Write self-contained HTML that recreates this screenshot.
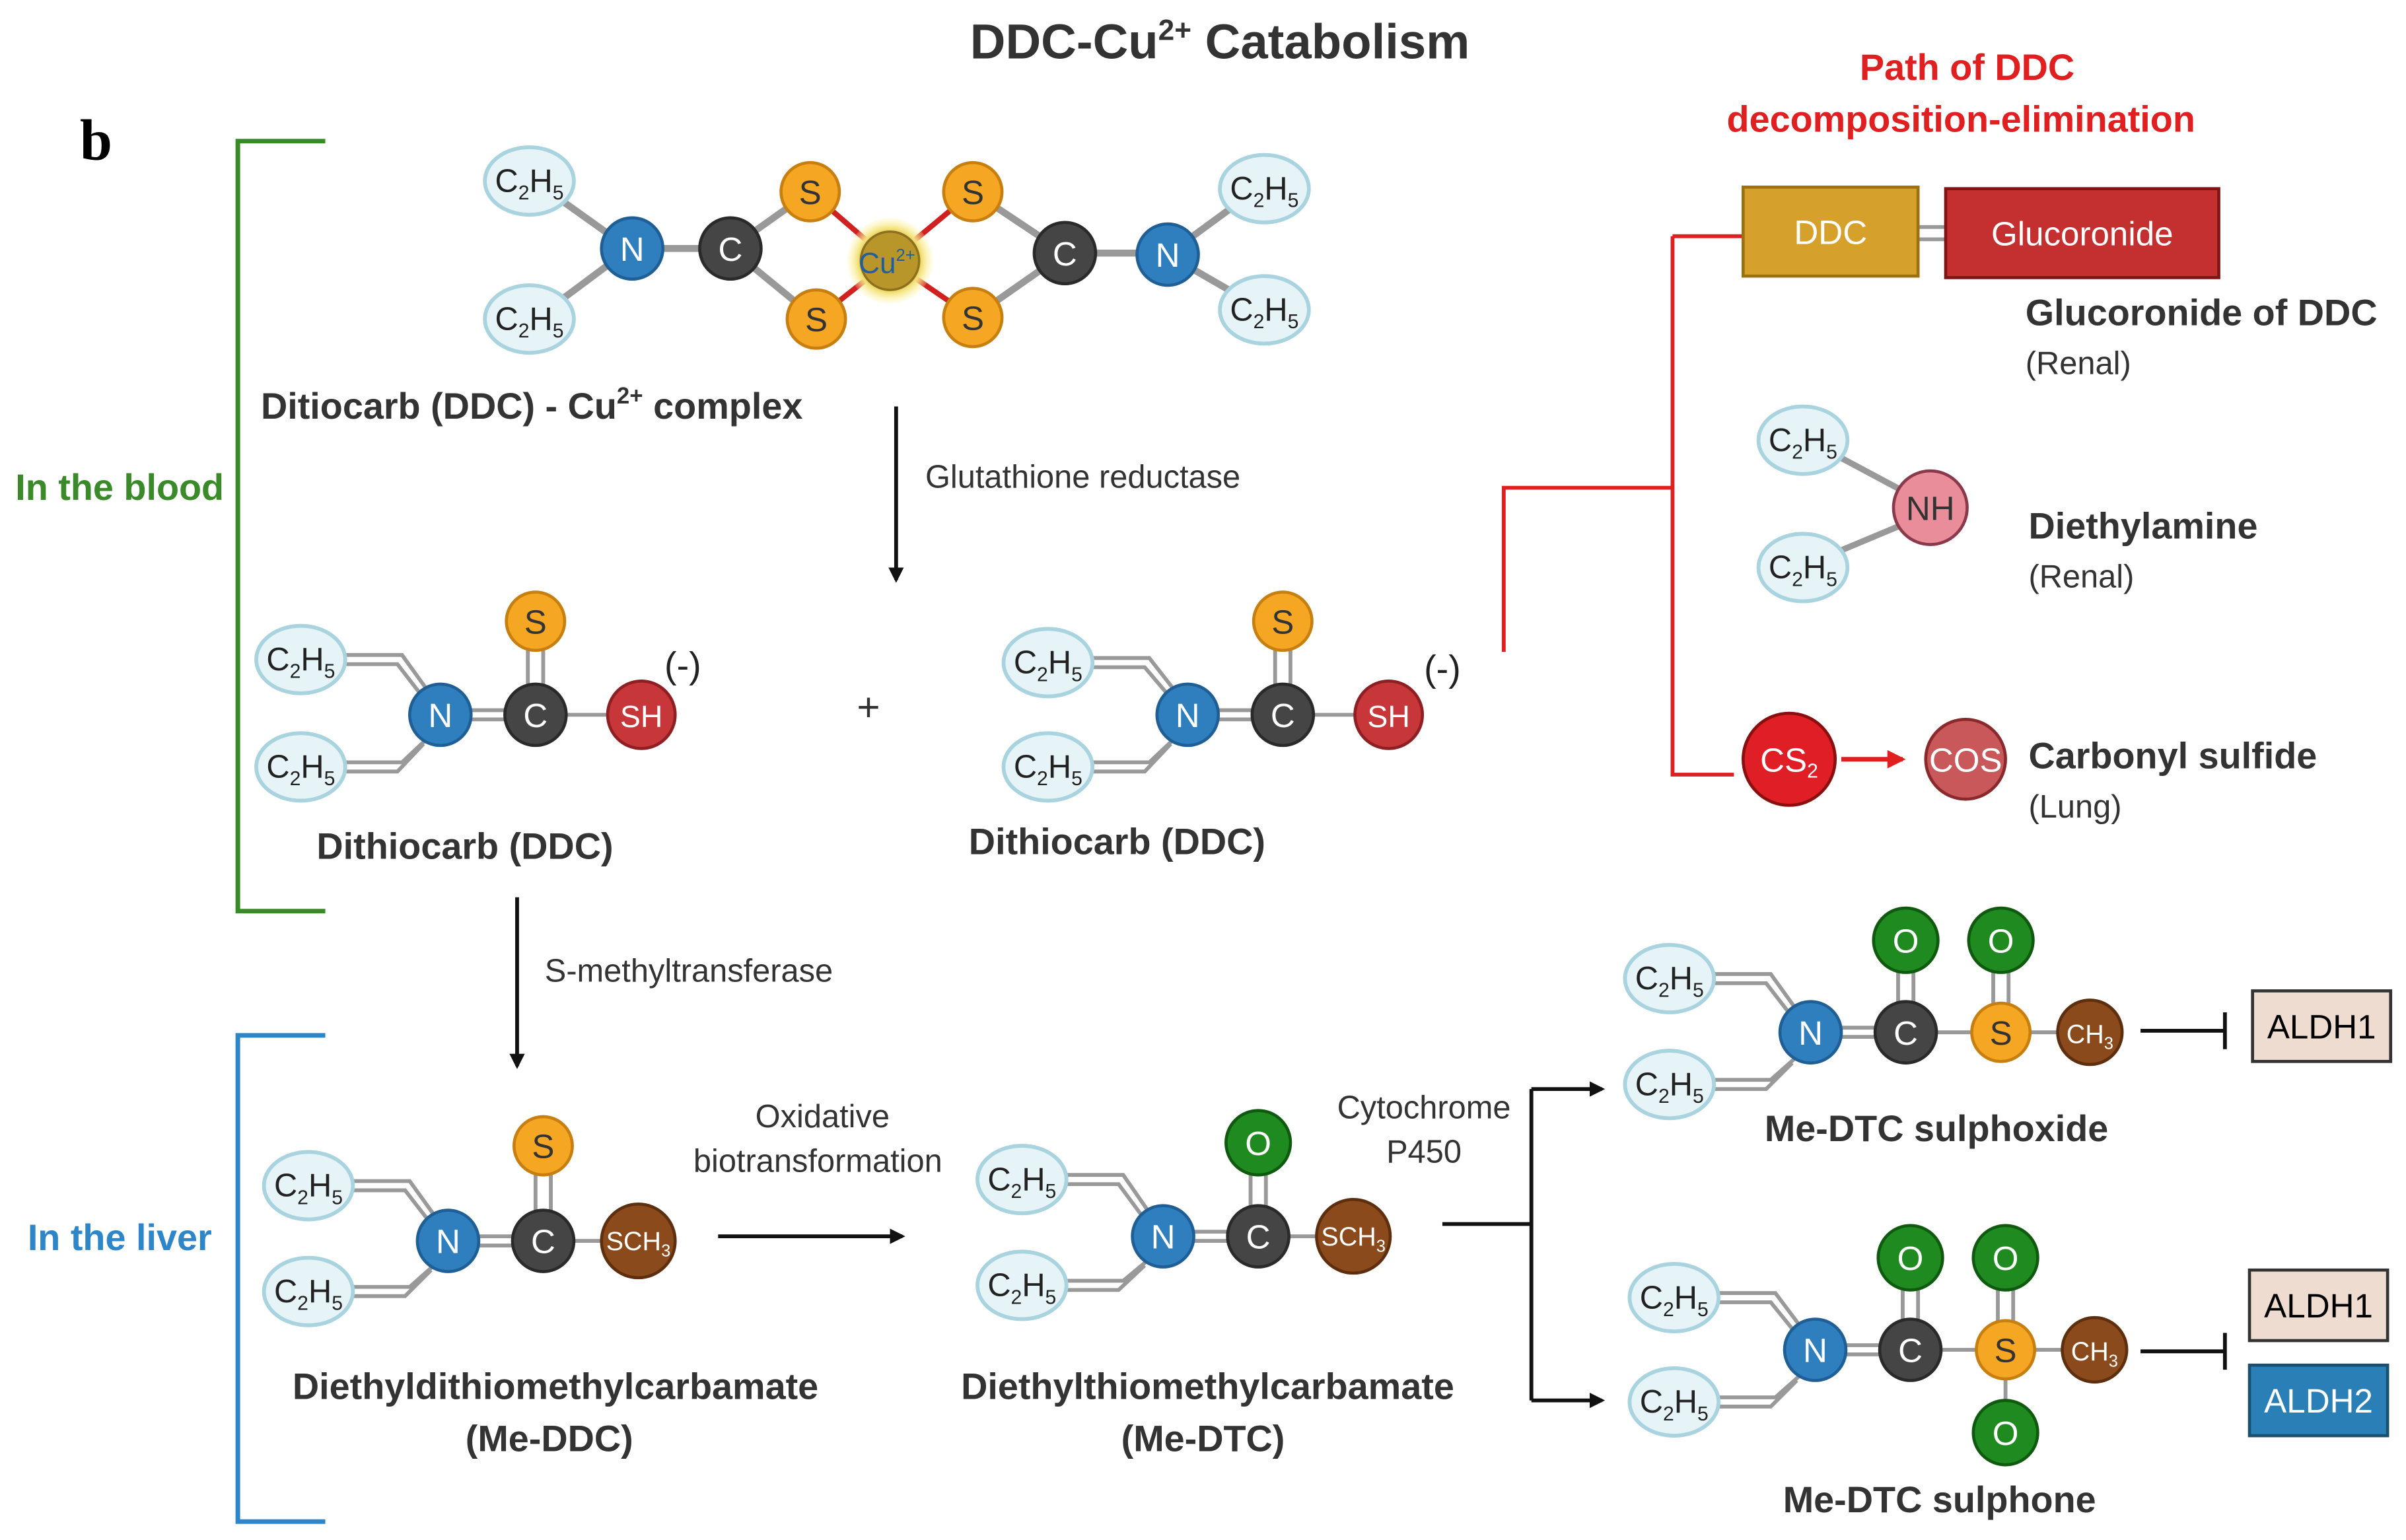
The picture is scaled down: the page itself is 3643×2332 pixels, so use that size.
<!DOCTYPE html>
<html><head><meta charset="utf-8"><style>
html,body{margin:0;padding:0;background:#fff;}
svg{display:block;}
text{font-family:"Liberation Sans",sans-serif;}
</style></head><body>
<svg width="3643" height="2332" viewBox="0 0 1568 1004" preserveAspectRatio="none" xmlns="http://www.w3.org/2000/svg">
<defs>
<marker id="ak" markerWidth="10" markerHeight="10" refX="8" refY="5" orient="auto" markerUnits="userSpaceOnUse"><path d="M0,0 L10,5 L0,10 z" fill="#111"/></marker>
<marker id="ar" markerWidth="12" markerHeight="12" refX="10" refY="6" orient="auto" markerUnits="userSpaceOnUse"><path d="M0,0 L12,6 L0,12 z" fill="#e02020"/></marker>
<radialGradient id="cu"><stop offset="0.55" stop-color="#c9a227"/><stop offset="0.75" stop-color="#f3e27a"/><stop offset="1" stop-color="#fff6b0" stop-opacity="0.2"/></radialGradient>
</defs>

<text x="795" y="38" font-size="32" font-weight="bold" text-anchor="middle" fill="#333">DDC-Cu<tspan font-size="19" dy="-12">2+</tspan><tspan dy="12"> Catabolism</tspan></text>
<text x="52" y="104" font-size="38" font-weight="bold" style="font-family:'Liberation Serif',serif">b</text>

<!-- brackets -->
<path d="M212,92 H155 V594 H212" fill="none" stroke="#3a8a2a" stroke-width="3"/>
<text x="10" y="326" font-size="24" font-weight="bold" fill="#3a8a2a">In the blood</text>
<path d="M212,675 H155 V992 H212" fill="none" stroke="#2e86c8" stroke-width="3"/>
<text x="18" y="815" font-size="24" font-weight="bold" fill="#2e86c8">In the liver</text>

<!-- red paths -->
<text x="1282" y="52" font-size="24" font-weight="bold" fill="#e02020" text-anchor="middle">Path of  DDC</text>
<text x="1278" y="86" font-size="24" font-weight="bold" fill="#e02020" text-anchor="middle">decomposition-elimination</text>
<path d="M980,425 V318 H1090 M1090,154 V505 H1130 M1090,154 H1136" fill="none" stroke="#e02020" stroke-width="2.5"/>

<g stroke="#999" stroke-width="4.5" fill="none">
<path d="M365,130 L400,155 M365,196 L400,170 M412,162 H476 M476,162 L528,125 M476,162 L532,208 M694,165 L634,125 M694,165 L634,207 M694,165 H761 M761,166 L806,133 M761,166 L806,192"/>
</g>
<g stroke="#d02020" stroke-width="3.5">
<path d="M580,170 L528,125 M580,170 L532,208 M580,170 L634,125 M580,170 L634,207"/>
</g>

<g stroke="#999" stroke-width="2.5" fill="none">
<path d="M222,427 H262 L280,452 M222,433 H259 L276,455 M222,497 H262 L280,480 M222,503 H259 L276,485 M305,463 H349 M305,469 H349 M349,466 H418 M344,466 V405 M354,466 V405"/>
<path d="M709,429 H749 L767,452 M709,435 H746 L763,455 M709,497 H749 L767,480 M709,503 H746 L763,485 M792,463 H836 M792,469 H836 M836,466 H905 M831,466 V405 M841,466 V405"/>
<path d="M227,770 H267 L285,795 M227,776 H264 L281,798 M227,839 H267 L285,823 M227,845 H264 L281,828 M310,806 H354 M310,812 H354 M354,809 H416 M349,809 V747 M359,809 V747"/>
<path d="M692,766 H732 L750,792 M692,772 H729 L746,795 M692,835 H732 L750,820 M692,841 H729 L746,825 M776,803 H820 M776,809 H820 M820,806 H882 M815,806 V745 M825,806 V745"/>
<path d="M1114,635 H1154 L1172,660 M1114,641 H1151 L1168,663 M1114,704 H1154 L1172,688 M1114,710 H1151 L1168,693 M1198,670 H1242 M1198,676 H1242 M1242,673 H1362 M1237,673 V613 M1247,673 V613 M1299,673 V613 M1309,673 V613"/>
<path d="M1117,843 H1157 L1175,867 M1117,849 H1154 L1171,870 M1117,911 H1157 L1175,895 M1117,917 H1154 L1171,900 M1201,877 H1245 M1201,883 H1245 M1245,880 H1365 M1240,880 V820 M1250,880 V820 M1302,880 V820 M1312,880 V820 M1307,880 V934"/>
<path d="M1197,297 L1240,320 M1197,360 L1240,342" stroke-width="4"/>
<path d="M1250,148 H1268 M1250,156 H1268"/>
</g>

<g font-size="22" text-anchor="middle" fill="#fff">
<g fill="#e6f4f8" stroke="#a9d3df" stroke-width="2.5">
<ellipse cx="345" cy="118" rx="29" ry="22"/><ellipse cx="345" cy="208" rx="29" ry="22"/>
<ellipse cx="824" cy="123" rx="29" ry="22"/><ellipse cx="824" cy="202" rx="29" ry="22"/>
<ellipse cx="196" cy="430" rx="29" ry="22"/><ellipse cx="196" cy="500" rx="29" ry="22"/>
<ellipse cx="683" cy="432" rx="29" ry="22"/><ellipse cx="683" cy="500" rx="29" ry="22"/>
<ellipse cx="201" cy="773" rx="29" ry="22"/><ellipse cx="201" cy="842" rx="29" ry="22"/>
<ellipse cx="666" cy="769" rx="29" ry="22"/><ellipse cx="666" cy="838" rx="29" ry="22"/>
<ellipse cx="1088" cy="638" rx="29" ry="22"/><ellipse cx="1088" cy="707" rx="29" ry="22"/>
<ellipse cx="1091" cy="846" rx="29" ry="22"/><ellipse cx="1091" cy="914" rx="29" ry="22"/>
<ellipse cx="1175" cy="287" rx="29" ry="22"/><ellipse cx="1175" cy="370" rx="29" ry="22"/>
</g>
<g fill="#222" font-size="21">
<text x="345" y="125">C<tspan font-size="13" dy="5">2</tspan><tspan dy="-5">H</tspan><tspan font-size="13" dy="5">5</tspan></text>
<text x="345" y="215">C<tspan font-size="13" dy="5">2</tspan><tspan dy="-5">H</tspan><tspan font-size="13" dy="5">5</tspan></text>
<text x="824" y="130">C<tspan font-size="13" dy="5">2</tspan><tspan dy="-5">H</tspan><tspan font-size="13" dy="5">5</tspan></text>
<text x="824" y="209">C<tspan font-size="13" dy="5">2</tspan><tspan dy="-5">H</tspan><tspan font-size="13" dy="5">5</tspan></text>
<text x="196" y="437">C<tspan font-size="13" dy="5">2</tspan><tspan dy="-5">H</tspan><tspan font-size="13" dy="5">5</tspan></text>
<text x="196" y="507">C<tspan font-size="13" dy="5">2</tspan><tspan dy="-5">H</tspan><tspan font-size="13" dy="5">5</tspan></text>
<text x="683" y="439">C<tspan font-size="13" dy="5">2</tspan><tspan dy="-5">H</tspan><tspan font-size="13" dy="5">5</tspan></text>
<text x="683" y="507">C<tspan font-size="13" dy="5">2</tspan><tspan dy="-5">H</tspan><tspan font-size="13" dy="5">5</tspan></text>
<text x="201" y="780">C<tspan font-size="13" dy="5">2</tspan><tspan dy="-5">H</tspan><tspan font-size="13" dy="5">5</tspan></text>
<text x="201" y="849">C<tspan font-size="13" dy="5">2</tspan><tspan dy="-5">H</tspan><tspan font-size="13" dy="5">5</tspan></text>
<text x="666" y="776">C<tspan font-size="13" dy="5">2</tspan><tspan dy="-5">H</tspan><tspan font-size="13" dy="5">5</tspan></text>
<text x="666" y="845">C<tspan font-size="13" dy="5">2</tspan><tspan dy="-5">H</tspan><tspan font-size="13" dy="5">5</tspan></text>
<text x="1088" y="645">C<tspan font-size="13" dy="5">2</tspan><tspan dy="-5">H</tspan><tspan font-size="13" dy="5">5</tspan></text>
<text x="1088" y="714">C<tspan font-size="13" dy="5">2</tspan><tspan dy="-5">H</tspan><tspan font-size="13" dy="5">5</tspan></text>
<text x="1091" y="853">C<tspan font-size="13" dy="5">2</tspan><tspan dy="-5">H</tspan><tspan font-size="13" dy="5">5</tspan></text>
<text x="1091" y="921">C<tspan font-size="13" dy="5">2</tspan><tspan dy="-5">H</tspan><tspan font-size="13" dy="5">5</tspan></text>
<text x="1175" y="294">C<tspan font-size="13" dy="5">2</tspan><tspan dy="-5">H</tspan><tspan font-size="13" dy="5">5</tspan></text>
<text x="1175" y="377">C<tspan font-size="13" dy="5">2</tspan><tspan dy="-5">H</tspan><tspan font-size="13" dy="5">5</tspan></text>
</g>

<g fill="#2f7fbf" stroke="#1f5f95" stroke-width="2">
<circle cx="412" cy="162" r="20"/><circle cx="761" cy="166" r="20"/>
<circle cx="287" cy="466" r="20"/><circle cx="774" cy="466" r="20"/>
<circle cx="292" cy="809" r="20"/><circle cx="758" cy="806" r="20"/>
<circle cx="1180" cy="673" r="20"/><circle cx="1183" cy="880" r="20"/>
</g>
<text x="412" y="170">N</text><text x="761" y="174">N</text>
<text x="287" y="474">N</text><text x="774" y="474">N</text>
<text x="292" y="817">N</text><text x="758" y="814">N</text>
<text x="1180" y="681">N</text><text x="1183" y="888">N</text>
<g fill="#454545" stroke="#2a2a2a" stroke-width="2">
<circle cx="476" cy="162" r="20"/><circle cx="694" cy="165" r="20"/>
<circle cx="349" cy="466" r="20"/><circle cx="836" cy="466" r="20"/>
<circle cx="354" cy="809" r="20"/><circle cx="820" cy="806" r="20"/>
<circle cx="1242" cy="673" r="20"/><circle cx="1245" cy="880" r="20"/>
</g>
<text x="476" y="170">C</text><text x="694" y="173">C</text>
<text x="349" y="474">C</text><text x="836" y="474">C</text>
<text x="354" y="817">C</text><text x="820" y="814">C</text>
<text x="1242" y="681">C</text><text x="1245" y="888">C</text>
<g fill="#f5a623" stroke="#c77f10" stroke-width="2">
<circle cx="528" cy="125" r="19"/><circle cx="532" cy="208" r="19"/><circle cx="634" cy="125" r="19"/><circle cx="634" cy="207" r="19"/>
<circle cx="349" cy="405" r="19"/><circle cx="836" cy="405" r="19"/><circle cx="354" cy="747" r="19"/>
<circle cx="1304" cy="673" r="19"/><circle cx="1307" cy="880" r="19"/>
</g>
<g fill="#333">
<text x="528" y="133">S</text><text x="532" y="216">S</text><text x="634" y="133">S</text><text x="634" y="215">S</text>
<text x="349" y="413">S</text><text x="836" y="413">S</text><text x="354" y="755">S</text>
<text x="1304" y="681">S</text><text x="1307" y="888">S</text>
</g>
<circle cx="580" cy="170" r="28" fill="url(#cu)"/>
<circle cx="580" cy="170" r="19" fill="#b8962a" stroke="#8c7020" stroke-width="1.5"/>
<text x="578" y="178" fill="#1f5fa0" font-size="19">Cu<tspan font-size="11" dy="-8">2+</tspan></text>
<g fill="#c7373a" stroke="#8e1f22" stroke-width="2"><circle cx="418" cy="466" r="22"/><circle cx="905" cy="466" r="22"/></g>
<text x="418" y="474" font-size="20">SH</text><text x="905" y="474" font-size="20">SH</text>
<g fill="#222" font-size="24"><text x="445" y="442">(-)</text><text x="940" y="444">(-)</text></g>
<g fill="#8b4a1c" stroke="#5e2f0f" stroke-width="2"><circle cx="416" cy="809" r="24"/><circle cx="882" cy="806" r="24"/><circle cx="1362" cy="673" r="21"/><circle cx="1365" cy="880" r="21"/></g>
<g font-size="17"><text x="416" y="815">SCH<tspan font-size="11" dy="4">3</tspan></text><text x="882" y="812">SCH<tspan font-size="11" dy="4">3</tspan></text>
<text x="1362" y="680">CH<tspan font-size="11" dy="4">3</tspan></text><text x="1365" y="887">CH<tspan font-size="11" dy="4">3</tspan></text></g>
<g fill="#1f8a1f" stroke="#0f5a0f" stroke-width="2">
<circle cx="820" cy="745" r="21"/><circle cx="1242" cy="613" r="21"/><circle cx="1304" cy="613" r="21"/>
<circle cx="1245" cy="820" r="21"/><circle cx="1307" cy="820" r="21"/><circle cx="1307" cy="934" r="21"/>
</g>
<text x="820" y="753">O</text><text x="1242" y="621">O</text><text x="1304" y="621">O</text>
<text x="1245" y="828">O</text><text x="1307" y="828">O</text><text x="1307" y="942">O</text>
<circle cx="1258" cy="331" r="24" fill="#e98d9b" stroke="#8a3a4a" stroke-width="2"/>
<text x="1258" y="339" fill="#333">NH</text>
<circle cx="1166" cy="495" r="30" fill="#e01e25" stroke="#8a1010" stroke-width="2"/>
<text x="1166" y="503">CS<tspan font-size="13" dy="4">2</tspan></text>
<circle cx="1281" cy="495" r="26" fill="#c9585a" stroke="#8a2a2c" stroke-width="2"/>
<text x="1281" y="503">COS</text>
</g>
<line x1="1200" y1="495" x2="1240" y2="495" stroke="#e02020" stroke-width="3" marker-end="url(#ar)"/>

<rect x="1136" y="122" width="114" height="58" fill="#d6a12b" stroke="#9c6f10" stroke-width="2"/>
<text x="1193" y="159" font-size="22" fill="#fff" text-anchor="middle">DDC</text>
<rect x="1268" y="123" width="178" height="58" fill="#c4302f" stroke="#7e1515" stroke-width="2"/>
<text x="1357" y="160" font-size="22" fill="#fff" text-anchor="middle">Glucoronide</text>
<rect x="1468" y="646" width="90" height="46" fill="#eddccf" stroke="#333" stroke-width="2"/>
<text x="1513" y="677" font-size="22" text-anchor="middle">ALDH1</text>
<rect x="1466" y="828" width="90" height="46" fill="#eddccf" stroke="#333" stroke-width="2"/>
<text x="1511" y="859" font-size="22" text-anchor="middle">ALDH1</text>
<rect x="1466" y="890" width="90" height="46" fill="#2a80b6" stroke="#1a4f70" stroke-width="2"/>
<text x="1511" y="921" font-size="22" fill="#fff" text-anchor="middle">ALDH2</text>

<g stroke="#111" stroke-width="2.5" fill="none">
<line x1="584" y1="265" x2="584" y2="378" marker-end="url(#ak)"/>
<line x1="337" y1="585" x2="337" y2="695" marker-end="url(#ak)"/>
<line x1="468" y1="806" x2="588" y2="806" marker-end="url(#ak)"/>
<path d="M940,798 H998 M998,710 V913"/>
<line x1="998" y1="710" x2="1044" y2="710" marker-end="url(#ak)"/>
<line x1="998" y1="913" x2="1044" y2="913" marker-end="url(#ak)"/>
<path d="M1395,672 H1450 M1450,660 V684 M1395,881 H1450 M1450,869 V893"/>
</g>

<g fill="#333" font-size="21">
<text x="603" y="318">Glutathione reductase</text>
<text x="355" y="640">S-methyltransferase</text>
<text x="536" y="735" text-anchor="middle">Oxidative</text>
<text x="533" y="764" text-anchor="middle">biotransformation</text>
<text x="928" y="729" text-anchor="middle">Cytochrome</text>
<text x="928" y="758" text-anchor="middle">P450</text>
<text x="1320" y="244">(Renal)</text>
<text x="1322" y="383">(Renal)</text>
<text x="1322" y="533">(Lung)</text>
<text x="566" y="470" font-size="26" text-anchor="middle">+</text>
</g>
<g fill="#333" font-size="24" font-weight="bold">
<text x="170" y="273">Ditiocarb (DDC) - Cu<tspan font-size="15" dy="-10">2+</tspan><tspan dy="10"> complex</tspan></text>
<text x="303" y="560" text-anchor="middle">Dithiocarb (DDC)</text>
<text x="728" y="557" text-anchor="middle">Dithiocarb (DDC)</text>
<text x="1320" y="212">Glucoronide of DDC</text>
<text x="1322" y="351">Diethylamine</text>
<text x="1322" y="501">Carbonyl sulfide</text>
<text x="1262" y="744" text-anchor="middle">Me-DTC sulphoxide</text>
<text x="1264" y="986" text-anchor="middle">Me-DTC sulphone</text>
<text x="362" y="912" text-anchor="middle">Diethyldithiomethylcarbamate</text>
<text x="358" y="946" text-anchor="middle">(Me-DDC)</text>
<text x="787" y="912" text-anchor="middle">Diethylthiomethylcarbamate</text>
<text x="784" y="946" text-anchor="middle">(Me-DTC)</text>
</g>
</svg>
</body></html>
